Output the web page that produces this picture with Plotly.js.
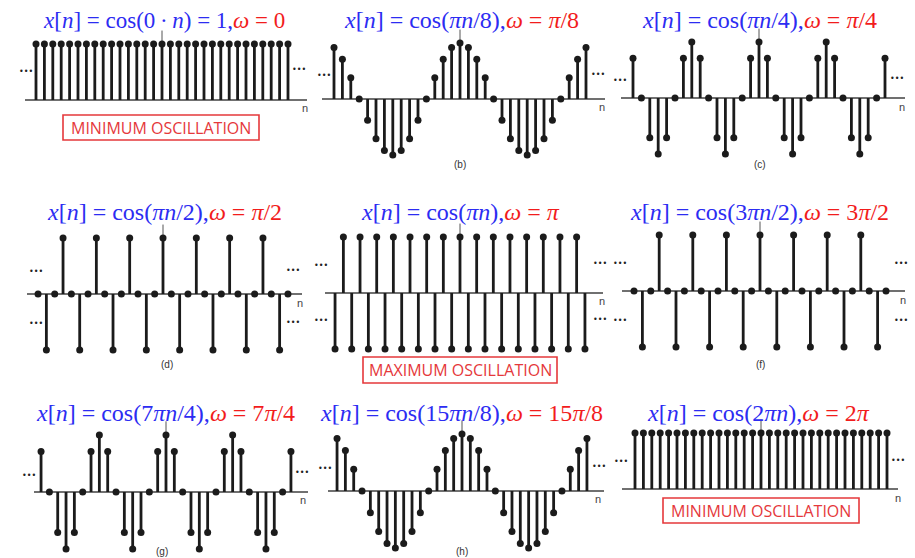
<!DOCTYPE html>
<html>
<head>
<meta charset="utf-8">
<script src="https://cdn.plot.ly/plotly-3.0.1.min.js"></script>
<style>
  html, body { margin: 0; padding: 0; background: #ffffff; }
  #chart { width: 915px; height: 558px; }
</style>
</head>
<body>
<div id="chart"></div>
<script>
// Sample index shared by every panel
const n = [-15,-14,-13,-12,-11,-10,-9,-8,-7,-6,-5,-4,-3,-2,-1,0,1,2,3,4,5,6,7,8,9,10,11,12,13,14,15];

// x[n] = cos(0·n)
const xOmega0 = [1,1,1,1,1,1,1,1,1,1,1,1,1,1,1,1,1,1,1,1,1,1,1,1,1,1,1,1,1,1,1];
// x[n] = cos(πn/8)
const xOmegaPi8 = [0.92,0.71,0.38,0,-0.38,-0.71,-0.92,-1,-0.92,-0.71,-0.38,0,0.38,0.71,0.92,1,0.92,0.71,0.38,0,-0.38,-0.71,-0.92,-1,-0.92,-0.71,-0.38,0,0.38,0.71,0.92];
// x[n] = cos(πn/4)
const xOmegaPi4 = [0.71,0,-0.71,-1,-0.71,0,0.71,1,0.71,0,-0.71,-1,-0.71,0,0.71,1,0.71,0,-0.71,-1,-0.71,0,0.71,1,0.71,0,-0.71,-1,-0.71,0,0.71];
// x[n] = cos(πn/2)
const xOmegaPi2 = [0,-1,0,1,0,-1,0,1,0,-1,0,1,0,-1,0,1,0,-1,0,1,0,-1,0,1,0,-1,0,1,0,-1,0];
// x[n] = cos(πn)
const xOmegaPi = [-1,1,-1,1,-1,1,-1,1,-1,1,-1,1,-1,1,-1,1,-1,1,-1,1,-1,1,-1,1,-1,1,-1,1,-1,1,-1];
// x[n] = cos(3πn/2)
const xOmega3Pi2 = [0,-1,0,1,0,-1,0,1,0,-1,0,1,0,-1,0,1,0,-1,0,1,0,-1,0,1,0,-1,0,1,0,-1,0];
// x[n] = cos(7πn/4)
const xOmega7Pi4 = [0.71,0,-0.71,-1,-0.71,0,0.71,1,0.71,0,-0.71,-1,-0.71,0,0.71,1,0.71,0,-0.71,-1,-0.71,0,0.71,1,0.71,0,-0.71,-1,-0.71,0,0.71];
// x[n] = cos(15πn/8)
const xOmega15Pi8 = [0.92,0.71,0.38,0,-0.38,-0.71,-0.92,-1,-0.92,-0.71,-0.38,0,0.38,0.71,0.92,1,0.92,0.71,0.38,0,-0.38,-0.71,-0.92,-1,-0.92,-0.71,-0.38,0,0.38,0.71,0.92];
// x[n] = cos(2πn)
const xOmega2Pi = [1,1,1,1,1,1,1,1,1,1,1,1,1,1,1,1,1,1,1,1,1,1,1,1,1,1,1,1,1,1,1];

// Panel titles (blue signal, red frequency)
const titleSignal = [
  '<i>x</i>[<i>n</i>] = cos(0\u2009·\u2009<i>n</i>) = 1,',
  '<i>x</i>[<i>n</i>] = cos(<i>πn</i>/8),',
  '<i>x</i>[<i>n</i>] = cos(<i>πn</i>/4),',
  '<i>x</i>[<i>n</i>] = cos(<i>πn</i>/2),',
  '<i>x</i>[<i>n</i>] = cos(<i>πn</i>),',
  '<i>x</i>[<i>n</i>] = cos(3<i>πn</i>/2),',
  '<i>x</i>[<i>n</i>] = cos(7<i>πn</i>/4),',
  '<i>x</i>[<i>n</i>] = cos(15<i>πn</i>/8),',
  '<i>x</i>[<i>n</i>] = cos(2<i>πn</i>),'
];
const titleOmega = ['0', '<i>π</i>/8', '<i>π</i>/4', '<i>π</i>/2', '<i>π</i>', '3<i>π</i>/2', '7<i>π</i>/4', '15<i>π</i>/8', '2<i>π</i>'];
const subLabels = ['', '(b)', '(c)', '(d)', '', '(f)', '(g)', '(h)', ''];

const series = [xOmega0, xOmegaPi8, xOmegaPi4, xOmegaPi2, xOmegaPi, xOmega3Pi2, xOmega7Pi4, xOmega15Pi8, xOmega2Pi];

// Page geometry (pixels): n=0 position, spacing per sample, baseline extent,
// baseline height, unit amplitude, title centre and size, label spots.
const W = 915, H = 558;
const panels = [
  {cx:162, dx:8.4,  bx0:25,  bx1:307, by:100, A:56, tx:164, ty:20,  ts:23, nx:305, ny:108, sx:0,   sy:0,   dots:[[26,71],[299,70]]},
  {cx:460, dx:8.4,  bx0:322, bx1:605, by:99,  A:56, tx:461, ty:20,  ts:24, nx:602, ny:107, sx:460, sy:165, dots:[[324,75],[598,74]]},
  {cx:759, dx:8.4,  bx0:621, bx1:905, by:98,  A:56, tx:759, ty:20,  ts:24, nx:902, ny:107, sx:760, sy:164, dots:[[620,80],[897,79]]},
  {cx:163, dx:8.33, bx0:27,  bx1:302, by:294, A:56, tx:164, ty:212, ts:24, nx:300, ny:303, sx:167, sy:364, dots:[[36,271],[36,323],[293,270],[293,322]]},
  {cx:460, dx:8.33, bx0:325, bx1:603, by:293, A:56, tx:460, ty:212, ts:24, nx:602, ny:301, sx:0,   sy:0,   dots:[[321,265],[321,320],[600,263],[600,319]]},
  {cx:760, dx:8.4,  bx0:622, bx1:905, by:291, A:56, tx:759, ty:212, ts:24, nx:903, ny:300, sx:760, sy:364, dots:[[620,263],[620,320],[901,263],[901,320]]},
  {cx:166, dx:8.33, bx0:34,  bx1:308, by:492, A:57, tx:165, ty:413, ts:24, nx:303, ny:500, sx:162, sy:551, dots:[[29,475],[302,472]]},
  {cx:462, dx:8.33, bx0:328, bx1:604, by:491, A:57, tx:461, ty:413, ts:24, nx:598, ny:499, sx:462, sy:551, dots:[[325,468],[599,466]]},
  {cx:761, dx:8.4,  bx0:622, bx1:898, by:489, A:56, tx:758, ty:413, ts:24, nx:898, ny:498, sx:0,   sy:0,   dots:[[621,461],[898,460]]}
];

// Outlined notes
const notes = [
  {text:'MINIMUM OSCILLATION', box:[63,115,259,140]},
  {text:'MAXIMUM OSCILLATION', box:[363,357,557,383]},
  {text:'MINIMUM OSCILLATION', box:[663,498,859,523]}
];

const px = x => x / W;
const py = y => 1 - y / H;

const BLUE = '#2c2cf2', RED = '#f21c1c', INK = '#1b1b1b', NOTE = '#e5383b';
const R_TOP = 1.3, R_BOT = 1.12;

const traces = [];
const layout = {
  width: W, height: H,
  margin: {l:0, r:0, t:0, b:0},
  paper_bgcolor: '#ffffff',
  plot_bgcolor: 'rgba(0,0,0,0)',
  showlegend: false,
  annotations: [],
  shapes: []
};

panels.forEach((p, i) => {
  const k = i === 0 ? '' : String(i + 1);
  const xa = 'x' + k, ya = 'y' + k;
  const vals = series[i];

  // stems: one segment per sample from the baseline to its value
  const sx = [], sy = [];
  n.forEach((v, j) => { sx.push(v, v, null); sy.push(0, vals[j], null); });
  traces.push({type:'scatter', mode:'lines', x:sx, y:sy, xaxis:xa, yaxis:ya,
    line:{color:INK, width:2.8}, hoverinfo:'skip', cliponaxis:false});
  traces.push({type:'scatter', mode:'markers', x:n, y:vals, xaxis:xa, yaxis:ya,
    marker:{color:INK, size:7}, cliponaxis:false});

  layout['xaxis' + k] = {
    domain:[px(p.bx0), px(p.bx1)],
    range:[(p.bx0 - p.cx) / p.dx, (p.bx1 - p.cx) / p.dx],
    anchor: ya, visible:false, fixedrange:true
  };
  const top = p.by - R_TOP * p.A, bot = p.by + R_BOT * p.A;
  layout['yaxis' + k] = {
    domain:[py(bot), py(top)],
    range:[-R_BOT, R_TOP],
    anchor: xa, showgrid:false, showticklabels:false, showline:false, ticks:'',
    zeroline:true, zerolinecolor:'#707070', zerolinewidth:1.6, fixedrange:true
  };

  // vertical axis mark at n = 0
  layout.shapes.push({type:'line', xref:xa, yref:ya, x0:0, x1:0, y0:0, y1:1.24,
    line:{color:'#555555', width:1}, layer:'below'});

  // title
  layout.annotations.push({
    xref:'paper', yref:'paper', x:px(p.tx), y:py(p.ty), xanchor:'center', yanchor:'middle',
    showarrow:false,
    text: titleSignal[i] + '<span style="color:' + RED + '"><i>ω</i> = ' + titleOmega[i] + '</span>',
    font:{family:'Liberation Serif, DejaVu Serif, serif', size:p.ts, color:BLUE}
  });
  // axis name
  layout.annotations.push({
    xref:'paper', yref:'paper', x:px(p.nx), y:py(p.ny), xanchor:'center', yanchor:'middle',
    showarrow:false, text:'n', font:{family:'Liberation Sans, Arial, sans-serif', size:11, color:'#444444'}
  });
  // sub-figure label
  if (subLabels[i]) {
    layout.annotations.push({
      xref:'paper', yref:'paper', x:px(p.sx), y:py(p.sy), xanchor:'center', yanchor:'middle',
      showarrow:false, text:subLabels[i], font:{family:'Liberation Sans, Arial, sans-serif', size:10, color:'#333333'}
    });
  }
  // continuation dots
  p.dots.forEach(d => {
    layout.annotations.push({
      xref:'paper', yref:'paper', x:px(d[0]), y:py(d[1]), xanchor:'center', yanchor:'middle',
      showarrow:false, text:'•••', font:{family:'DejaVu Sans, sans-serif', size:8, color:'#222222'}
    });
  });
});

notes.forEach(nt => {
  const [x0, y0, x1, y1] = nt.box;
  layout.shapes.push({type:'rect', xref:'paper', yref:'paper',
    x0:px(x0), x1:px(x1), y0:py(y1), y1:py(y0),
    line:{color:NOTE, width:1.6}, fillcolor:'rgba(0,0,0,0)'});
  layout.annotations.push({
    xref:'paper', yref:'paper', x:px((x0 + x1) / 2), y:py((y0 + y1) / 2),
    xanchor:'center', yanchor:'middle', showarrow:false, text:nt.text,
    font:{family:'Open Sans, sans-serif', size:16, color:NOTE}
  });
});

Plotly.newPlot('chart', traces, layout, {staticPlot:true, displayModeBar:false});
</script>
</body>
</html>
